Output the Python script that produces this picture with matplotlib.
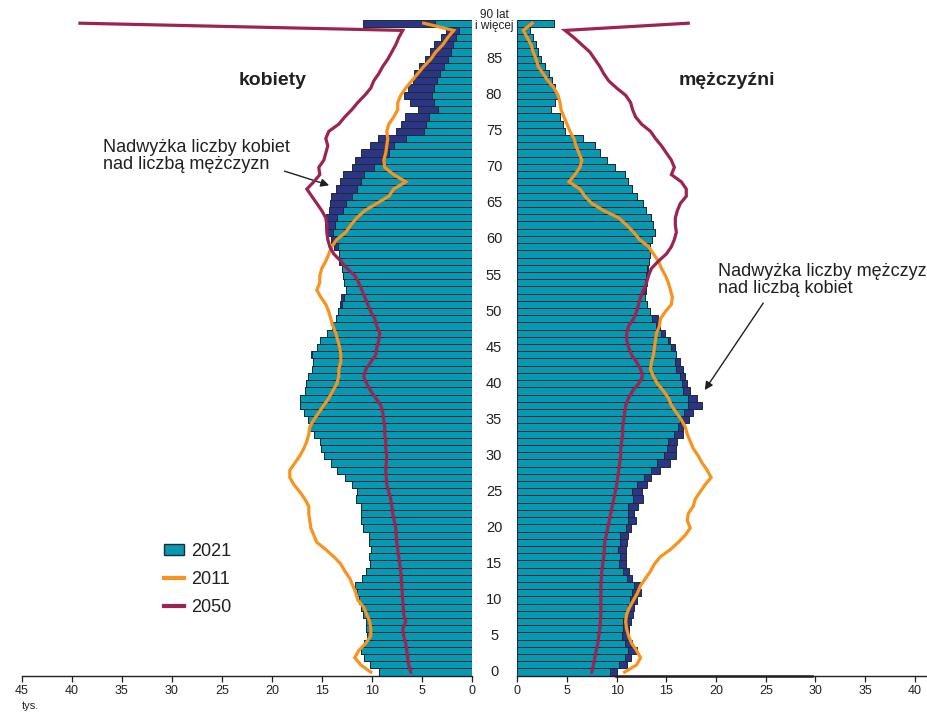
import numpy as np
import matplotlib
matplotlib.use("Agg")
import matplotlib.pyplot as plt
from matplotlib.patches import Patch
from matplotlib.lines import Line2D

plt.rcParams['font.family'] = ['Liberation Sans', 'DejaVu Sans']

ages = np.arange(0, 91)

# 2021 (tys.)
female_2021 = [9.3, 10.2, 10.8, 11.1, 10.8, 10.5, 10.6, 10.6, 10.9, 11.1,
               11.3, 11.5, 11.7, 11.0, 10.6, 10.2, 10.3, 10.1, 10.3, 10.3,
               10.9, 11.1, 11.1, 11.1, 11.6, 11.5, 12.0, 12.7, 13.5, 14.1,
               14.8, 15.1, 15.2, 15.8, 16.2, 16.4, 16.8, 17.2, 17.2, 16.7,
               16.6, 16.4, 16.0, 15.9, 16.1, 15.5, 15.2, 14.5, 14.0, 13.6,
               13.4, 13.2, 13.1, 12.6, 12.8, 12.9, 13.0, 13.3, 13.3, 13.8,
               14.1, 14.5, 14.7, 14.6, 14.3, 14.2, 14.1, 13.6, 13.2, 12.9,
               12.0, 11.7, 11.1, 10.2, 9.4, 7.6, 7.1, 6.7, 5.4, 6.2,
               6.8, 6.4, 5.9, 5.8, 5.3, 4.7, 4.2, 3.8, 3.1, 2.6,
               10.9]
male_2021 = [10.0, 11.0, 11.4, 12.0, 11.5, 11.2, 11.2, 11.4, 11.6, 11.7,
             12.0, 12.4, 12.3, 11.5, 11.2, 10.9, 10.9, 10.9, 11.0, 11.1,
             11.4, 11.9, 11.7, 12.1, 12.6, 12.5, 13.0, 13.5, 14.4, 15.4,
             16.0, 16.0, 16.1, 16.7, 16.7, 17.3, 17.7, 18.6, 18.1, 17.4,
             17.1, 16.9, 16.7, 16.4, 16.0, 15.9, 15.4, 14.9, 14.4, 14.2,
             13.4, 13.0, 12.8, 12.9, 13.0, 13.0, 13.1, 13.2, 13.4, 13.4,
             13.6, 13.9, 13.7, 13.5, 12.9, 12.6, 12.0, 11.5, 11.1, 10.8,
             9.8, 9.0, 8.3, 7.8, 6.6, 4.8, 4.6, 4.3, 3.4, 3.8,
             4.0, 3.8, 3.5, 3.2, 2.8, 2.4, 2.1, 1.9, 1.6, 1.3,
             3.7]

# 2011
female_2011 = [10.1, 11.1, 11.7, 11.3, 10.6, 10.1, 10.1, 10.2, 10.5, 10.8,
               11.4, 11.6, 11.9, 12.2, 12.7, 13.1, 13.8, 14.6, 15.5, 15.8,
               16.1, 16.2, 16.3, 16.3, 16.7, 17.2, 17.8, 18.2, 18.2, 17.7,
               17.2, 16.8, 16.5, 16.3, 16.2, 15.8, 15.3, 14.8, 14.3, 13.9,
               13.5, 13.3, 13.3, 13.1, 13.1, 13.2, 13.4, 13.6, 13.9, 14.1,
               14.3, 14.6, 15.1, 15.5, 15.2, 15.2, 15.0, 14.6, 14.3, 14.0,
               13.5, 12.6, 12.1, 11.5, 10.7, 9.5, 8.3, 7.8, 6.6, 7.8,
               8.7, 8.8, 8.6, 8.5, 8.4, 8.5, 8.3, 7.8, 7.4, 7.4,
               7.1, 6.6, 6.0, 5.4, 4.8, 4.1, 3.6, 2.9, 2.4, 1.8,
               4.8]
male_2011 = [10.8, 12.0, 12.4, 12.0, 11.5, 11.2, 11.0, 10.9, 11.0, 11.3,
             11.7, 12.1, 12.4, 12.9, 13.4, 13.8, 14.4, 15.4, 16.2, 16.9,
             17.4, 17.1, 17.2, 17.7, 17.9, 18.4, 18.9, 19.5, 19.1, 18.6,
             18.2, 17.7, 17.4, 17.1, 16.9, 16.5, 16.0, 15.5, 15.2, 14.7,
             14.1, 13.7, 13.4, 13.5, 13.7, 13.8, 13.9, 14.0, 14.3, 14.4,
             14.9, 15.5, 15.6, 15.4, 15.2, 14.9, 14.5, 14.2, 13.7, 13.2,
             12.3, 11.7, 11.0, 10.2, 8.7, 7.5, 6.8, 6.3, 5.2, 5.8,
             6.3, 6.5, 6.2, 5.9, 5.7, 5.3, 5.0, 4.7, 4.4, 4.3,
             4.1, 3.7, 3.1, 2.6, 2.1, 1.9, 1.6, 1.4, 1.0, 0.6,
             1.5]

# 2050
female_2050 = [6.1, 6.3, 6.4, 6.5, 6.6, 6.8, 6.9, 6.6, 6.8, 6.85,
               6.9, 6.95, 7.0, 7.05, 7.1, 7.2, 7.3, 7.4, 7.5, 7.55,
               7.6, 7.75, 7.9, 8.0, 8.1, 8.3, 8.5, 8.55, 8.6, 8.55,
               8.5, 8.6, 8.6, 8.7, 8.7, 8.8, 8.9, 9.1, 9.6, 10.1,
               10.5, 10.8, 10.6, 10.1, 9.6, 9.5, 9.3, 9.2, 9.5, 9.7,
               10.1, 10.4, 10.7, 11.0, 11.3, 11.7, 12.5, 13.1, 13.8, 14.2,
               14.4, 14.5, 14.5, 14.6, 15.0, 15.5, 16.0, 16.5, 15.8, 15.2,
               15.3, 14.8, 14.6, 14.4, 14.6, 14.3, 13.3, 12.7, 12.0, 11.4,
               10.7, 10.1, 9.8, 9.3, 8.9, 8.4, 8.0, 7.6, 7.3, 6.9,
               39.2]
male_2050 = [7.5, 7.65, 7.8, 7.95, 8.1, 8.2, 8.3, 8.35, 8.4, 8.4,
             8.4, 8.4, 8.4, 8.45, 8.5, 8.6, 8.7, 8.75, 8.8, 8.95,
             9.1, 9.25, 9.4, 9.55, 9.7, 9.85, 10.0, 10.1, 10.2, 10.3,
             10.4, 10.4, 10.5, 10.6, 10.6, 10.7, 10.8, 10.9, 11.2, 11.6,
             12.2, 12.6, 12.4, 12.0, 11.5, 11.2, 11.0, 11.0, 11.2, 11.7,
             12.0, 12.2, 12.4, 12.7, 13.0, 13.2, 13.5, 14.2, 15.0, 15.5,
             15.8, 16.0, 15.9, 15.9, 16.1, 16.4, 17.0, 17.0, 16.5, 15.5,
             15.8, 15.5, 15.0, 14.5, 13.9, 13.4, 12.5, 11.9, 11.6, 11.4,
             10.9, 10.0, 9.2, 8.7, 8.3, 7.8, 7.3, 6.5, 5.7, 4.8,
             17.2]

age_labels = [str(a) for a in range(0, 90, 5)] + ["90 lat\ni więcej"]
left_ticks = list(range(0, 50, 5))
right_ticks = list(range(0, 45, 5))
stray_line = [9.9, 29.6]

teal = "#0898b2"
navy = "#2b3584"
orange = "#f7931e"
maroon = "#9c2452"
edge = "#1c2b36"
txt = "#231f20"

fw, fh = 928, 713
fig = plt.figure(figsize=(fw / 100, fh / 100), dpi=100)

y_bot = 675.7
ax_l = fig.add_axes([22 / fw, (fh - y_bot) / fh, (471.7 - 22) / fw, y_bot / fh])
ax_r = fig.add_axes([517.3 / fw, (fh - y_bot) / fh, (fw - 517.3) / fw, y_bot / fh])

f21 = np.array(female_2021)
m21 = np.array(male_2021)
common = np.minimum(f21, m21)

for ax, own, line11, line50 in [(ax_l, f21, female_2011, female_2050),
                                 (ax_r, m21, male_2011, male_2050)]:
    ax.barh(ages, own, height=1.0, color=navy, edgecolor=edge, linewidth=0.7, zorder=1)
    ax.barh(ages, common, height=1.0, color=teal, edgecolor=edge, linewidth=0.7, zorder=2)
    ax.plot(line11, ages, color=orange, lw=2.3, zorder=3, solid_joinstyle='miter')
    ax.plot(line50, ages, color=maroon, lw=2.3, zorder=4, solid_joinstyle='miter')
    ax.set_ylim(-0.5, -0.5 + y_bot / 7.21)
    for s in ['top', 'left', 'right']:
        ax.spines[s].set_visible(False)
    ax.spines['bottom'].set_color(txt)
    ax.spines['bottom'].set_linewidth(1.0)
    ax.set_yticks([])
    ax.tick_params(axis='x', direction='out', length=4, width=0.9, color=txt,
                   labelsize=9, labelcolor=txt, pad=3)
    ax.patch.set_visible(False)

ax_l.set_xlim(45, 0)
ax_l.set_xticks(left_ticks)
ax_r.set_xlim(0, (fw - 517.3) / 9.94)
ax_r.set_xticks(right_ticks)

ax_r.plot(stray_line, [-0.5, -0.5], color=txt, lw=1.8, clip_on=False, zorder=5)

# wiek - etykiety miedzy panelami
for i, lab in enumerate(age_labels):
    a = i * 5
    if a < 90:
        ax_r.text(-2.34, a, lab, ha='center', va='center', fontsize=10.5,
                  color=txt, clip_on=False)
    else:
        ax_r.text(-2.34, 90.4, lab, ha='center', va='center', fontsize=8.5,
                  color=txt, clip_on=False, linespacing=0.95)

fig.text(22 / fw, 1 - 706 / fh, "tys.", fontsize=8, color=txt, ha='left', va='center')

ax_l.text(19.9, 82.1, "kobiety", fontsize=14, fontweight='bold', color=txt,
          ha='center', va='center')
ax_r.text(21.1, 82.1, "mężczyźni", fontsize=14, fontweight='bold', color=txt,
          ha='center', va='center')

ax_l.text(36.9, 71.6, "Nadwyżka liczby kobiet\nnad liczbą mężczyzn", fontsize=13,
          color=txt, ha='left', va='center', linespacing=1.0)
ax_l.annotate("", xy=(14.0, 67.4), xytext=(19.0, 69.6),
              arrowprops=dict(arrowstyle='-|>', color=txt, lw=1.0, mutation_scale=12))

ax_r.text(20.2, 54.4, "Nadwyżka liczby mężczyzn\nnad liczbą kobiet", fontsize=13,
          color=txt, ha='left', va='center', linespacing=1.0, clip_on=False)
ax_r.annotate("", xy=(18.7, 38.8), xytext=(24.9, 51.5),
              arrowprops=dict(arrowstyle='-|>', color=txt, lw=1.0, mutation_scale=12))

handles = [Patch(facecolor=teal, edgecolor=edge, linewidth=1.0),
           Line2D([], [], color=orange, lw=3),
           Line2D([], [], color=maroon, lw=3)]
fig.legend(handles, ["2021", "2011", "2050"], loc='upper left',
           bbox_to_anchor=(164 / fw, 1 - 543 / fh), frameon=False, fontsize=13,
           handlelength=1.1, handleheight=0.6, handletextpad=0.4,
           labelspacing=0.62, borderpad=0, borderaxespad=0, labelcolor=txt)

fig.savefig("out.png", dpi=100)
